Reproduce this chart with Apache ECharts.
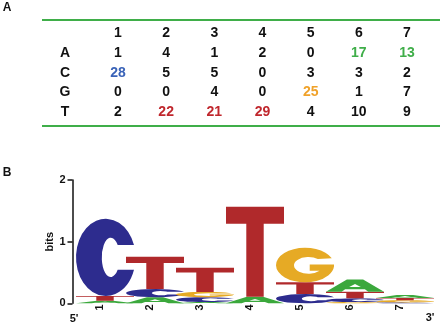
<!DOCTYPE html>
<html><head><meta charset="utf-8">
<script src="https://cdn.jsdelivr.net/npm/echarts@6/dist/echarts.min.js"></script>
<style>html,body{margin:0;padding:0;background:#fff}#c{width:440px;height:324px}</style>
</head><body><div id="c"></div><script>
// ---- data ----
const positions = ['1','2','3','4','5','6','7'];
const bases = ['A','C','G','T'];
const countsA = [1,4,1,2,0,17,13];
const countsC = [28,5,5,0,3,3,2];
const countsG = [0,0,4,0,25,1,7];
const countsT = [2,22,21,29,4,10,9];
const bitsA = [0.04,0.10,0.02,0.107,0,0.20,0.05];
const bitsC = [1.25,0.13,0.08,0,0.15,0.06,0.015];
const bitsG = [0,0,0.085,0,0.56,0.02,0.035];
const bitsT = [0.08,0.525,0.39,1.46,0.19,0.107,0.035];
const yTicks = [0,1,2];

// ---- styles ----
const FONT = 'Arial, "Liberation Sans", Helvetica, sans-serif';
const TXT = '#111';
const tableColor = {A:'#3fae49', C:'#3a63b8', G:'#f0a22a', T:'#c0272d'};
const logoColor = {A:'#3ba83c', C:'#2d2c8e', G:'#e6aa25', T:'#b0292b'};
const glyph = {
  T: 'M0 0H100V19H65V100H35V19H0Z',
  A: 'M0 100L36 0H64L100 100H73L67 80H33L27 100ZM40 62H60L50 36Z',
  C: 'M97.4 34A50 50 0 1 0 97.4 66H70A15 25.5 0 1 1 70 34Z',
  G: 'M96 32A50 50 0 1 0 99.8 56V50H58V68H75A25 24 0 1 1 72 34Z'
};

const counts = {A:countsA, C:countsC, G:countsG, T:countsT};
const tableData = [];
bases.forEach((b, r) => {
  counts[b].forEach((v, c) => {
    const colMax = Math.max(countsA[c], countsC[c], countsG[c], countsT[c]);
    tableData.push({value:[c, r, v], label:{color: v === colMax ? tableColor[b] : TXT}});
  });
});
const logoData = positions.map((p, i) => [i, bitsA[i], bitsC[i], bitsG[i], bitsT[i]]);

const chart = echarts.init(document.getElementById('c'), null, {renderer:'canvas'});
chart.setOption({
  animation: false,
  backgroundColor: '#fff',
  textStyle: {fontFamily: FONT},
  grid: [
    {left: 93.9, right: 8.9, top: 43.2, bottom: 202.2, containLabel: false, outerBoundsMode: 'none'},
    {left: 75, width: 350, top: 180, bottom: 20.7, containLabel: false, outerBoundsMode: 'none'}
  ],
  xAxis: [
    {gridIndex: 0, type: 'category', data: positions, position: 'top',
     axisLine: {show: false}, axisTick: {show: false}, splitLine: {show: false},
     axisLabel: {margin: 3, fontSize: 14, fontWeight: 'bold', color: TXT, fontFamily: FONT}},
    {gridIndex: 1, type: 'category', data: positions, position: 'bottom',
     axisLine: {show: false}, axisTick: {show: false}, splitLine: {show: false},
     axisLabel: {rotate: 90, margin: 1, fontSize: 11, fontWeight: 'bold', color: TXT, fontFamily: FONT}}
  ],
  yAxis: [
    {gridIndex: 0, type: 'category', data: bases, inverse: true,
     axisLine: {show: false}, axisTick: {show: false}, splitLine: {show: false},
     axisLabel: {margin: 28.9, align: 'center', fontSize: 14, fontWeight: 'bold', color: TXT, fontFamily: FONT}},
    {gridIndex: 1, type: 'value', min: yTicks[0], max: yTicks[yTicks.length-1], interval: 1, offset: 2.5,
     name: 'bits', nameLocation: 'middle', nameGap: 17.5, nameRotate: 90, nameMoveOverlap: false,
     nameTextStyle: {fontSize: 11, fontWeight: 'bold', color: TXT, fontFamily: FONT},
     axisLine: {show: true, lineStyle: {color: '#111', width: 1.5}},
     axisTick: {show: true, length: 5, lineStyle: {color: '#111', width: 1.5}},
     splitLine: {show: false},
     axisLabel: {margin: 7, fontSize: 11, fontWeight: 'bold', color: TXT, fontFamily: FONT}}
  ],
  series: [
    {type: 'scatter', xAxisIndex: 0, yAxisIndex: 0, symbolSize: 0, data: tableData,
     itemStyle: {opacity: 1},
     label: {show: true, position: 'inside', opacity: 1, fontSize: 14, fontWeight: 'bold', fontFamily: FONT,
             formatter: p => String(p.value[2])}},
    {type: 'custom', xAxisIndex: 1, yAxisIndex: 1, data: logoData,
     encode: {x: 0, y: [1,2,3,4]},
     renderItem: function (params, api) {
       const i = api.value(0);
       const items = bases.map((b, k) => ({b: b, h: api.value(k + 1)})).filter(d => d.h > 0);
       items.sort((a, b) => a.h - b.h);
       const band = api.size([1, 0])[0];
       const w = band * 1.16;
       const cx = api.coord([i, 0])[0] + band * 0.1;
       let cum = 0;
       const children = [];
       items.forEach(d => {
         const p0 = api.coord([i, cum]);
         const p1 = api.coord([i, cum + d.h]);
         cum += d.h;
         children.push({type: 'path',
           shape: {pathData: glyph[d.b], x: cx - w / 2, y: p1[1], width: w, height: Math.max(0.6, p0[1] - p1[1]), layout: 'cover'},
           style: {fill: logoColor[d.b]}});
       });
       return {type: 'group', children: children};
     }}
  ],
  graphic: [
    {type: 'line', shape: {x1: 42, y1: 20, x2: 440, y2: 20}, style: {stroke: '#3fae49', lineWidth: 2}},
    {type: 'line', shape: {x1: 42, y1: 126, x2: 440, y2: 126}, style: {stroke: '#3fae49', lineWidth: 2}},
    {type: 'text', x: 7, y: 8, style: {text: 'A', font: 'bold 12px ' + FONT, fill: TXT, align: 'center', verticalAlign: 'middle'}},
    {type: 'text', x: 7, y: 173, style: {text: 'B', font: 'bold 12px ' + FONT, fill: TXT, align: 'center', verticalAlign: 'middle'}},
    {type: 'text', x: 74, y: 319, style: {text: "5'", font: 'bold 11px ' + FONT, fill: TXT, align: 'center', verticalAlign: 'middle'}},
    {type: 'text', x: 430, y: 318, style: {text: "3'", font: 'bold 11px ' + FONT, fill: TXT, align: 'center', verticalAlign: 'middle'}}
  ]
});
</script></body></html>
